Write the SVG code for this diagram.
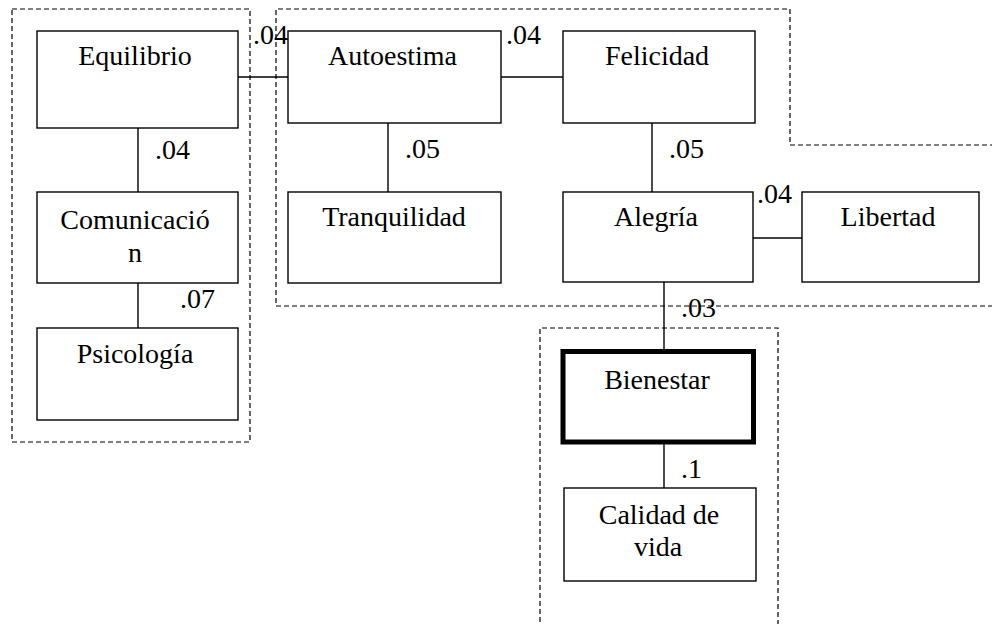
<svg xmlns="http://www.w3.org/2000/svg" width="992" height="624" viewBox="0 0 992 624">
<style>
.bg{fill:#ffffff}
.grp{fill:none;stroke:#000;stroke-width:1.2;stroke-dasharray:5 3}
.box{fill:#fff;stroke:#000;stroke-width:1.4}
.thick{fill:#fff;stroke:#000;stroke-width:5}
.ln{fill:none;stroke:#000;stroke-width:1.4}
text{font-family:"Times New Roman",Tinos,"Liberation Serif","DejaVu Serif","Noto Serif",FreeSerif,Times,serif;font-size:28px;fill:#000}
.c{text-anchor:middle}
</style>
<rect class="bg" x="0" y="0" width="992" height="624"/>
<g id="groups">
<rect class="grp" x="12" y="9" width="238" height="433"/>
<path class="grp" d="M995,145 H790 V9 H276 V306 H995"/>
<path class="grp" d="M540,630 V328 H778 V630"/>
</g>
<g id="connectors">
<line class="ln" x1="138" y1="128" x2="138" y2="192"/>
<line class="ln" x1="138" y1="283" x2="138" y2="328"/>
<line class="ln" x1="238" y1="77" x2="288" y2="77"/>
<line class="ln" x1="501" y1="77" x2="563" y2="77"/>
<line class="ln" x1="388" y1="123" x2="388" y2="192"/>
<line class="ln" x1="652" y1="123" x2="652" y2="192"/>
<line class="ln" x1="753" y1="238" x2="802" y2="238"/>
<line class="ln" x1="664" y1="282" x2="664" y2="350"/>
<line class="ln" x1="664" y1="444" x2="664" y2="488"/>
<text x="155" y="159">.04</text>
<text x="180" y="308">.07</text>
<text x="253" y="44">.04</text>
<text x="506" y="44">.04</text>
<text x="405" y="158">.05</text>
<text x="669" y="158">.05</text>
<text x="757" y="203">.04</text>
<text x="681" y="317">.03</text>
<text x="681" y="478">.1</text>
</g>
<g id="equilibrio">
<rect class="box" x="37" y="31" width="201" height="97"/>
<text class="c" x="135" y="65">Equilibrio</text>
</g>
<g id="comunicacion">
<rect class="box" x="37" y="192" width="201" height="91"/>
<text class="c" x="135" y="229">Comunicació</text>
<text class="c" x="135" y="262">n</text>
</g>
<g id="psicologia">
<rect class="box" x="37" y="328" width="201" height="92"/>
<text class="c" x="135" y="363">Psicología</text>
</g>
<g id="autoestima">
<rect class="box" x="288" y="31" width="213" height="92"/>
<text class="c" x="392.5" y="65">Autoestima</text>
</g>
<g id="felicidad">
<rect class="box" x="563" y="31" width="192" height="92"/>
<text class="c" x="657" y="65">Felicidad</text>
</g>
<g id="tranquilidad">
<rect class="box" x="288" y="192" width="213" height="91"/>
<text class="c" x="394" y="226">Tranquilidad</text>
</g>
<g id="alegria">
<rect class="box" x="563" y="192" width="190" height="90"/>
<text class="c" x="656" y="226">Alegría</text>
</g>
<g id="libertad">
<rect class="box" x="802" y="192" width="177" height="90"/>
<text class="c" x="888" y="226">Libertad</text>
</g>
<g id="bienestar">
<rect class="thick" x="563" y="351.5" width="190.5" height="90.5"/>
<text class="c" x="657" y="389">Bienestar</text>
</g>
<g id="calidad">
<rect class="box" x="564" y="488" width="192" height="93"/>
<text class="c" x="659" y="524">Calidad de</text>
<text class="c" x="658" y="556">vida</text>
</g>
</svg>
